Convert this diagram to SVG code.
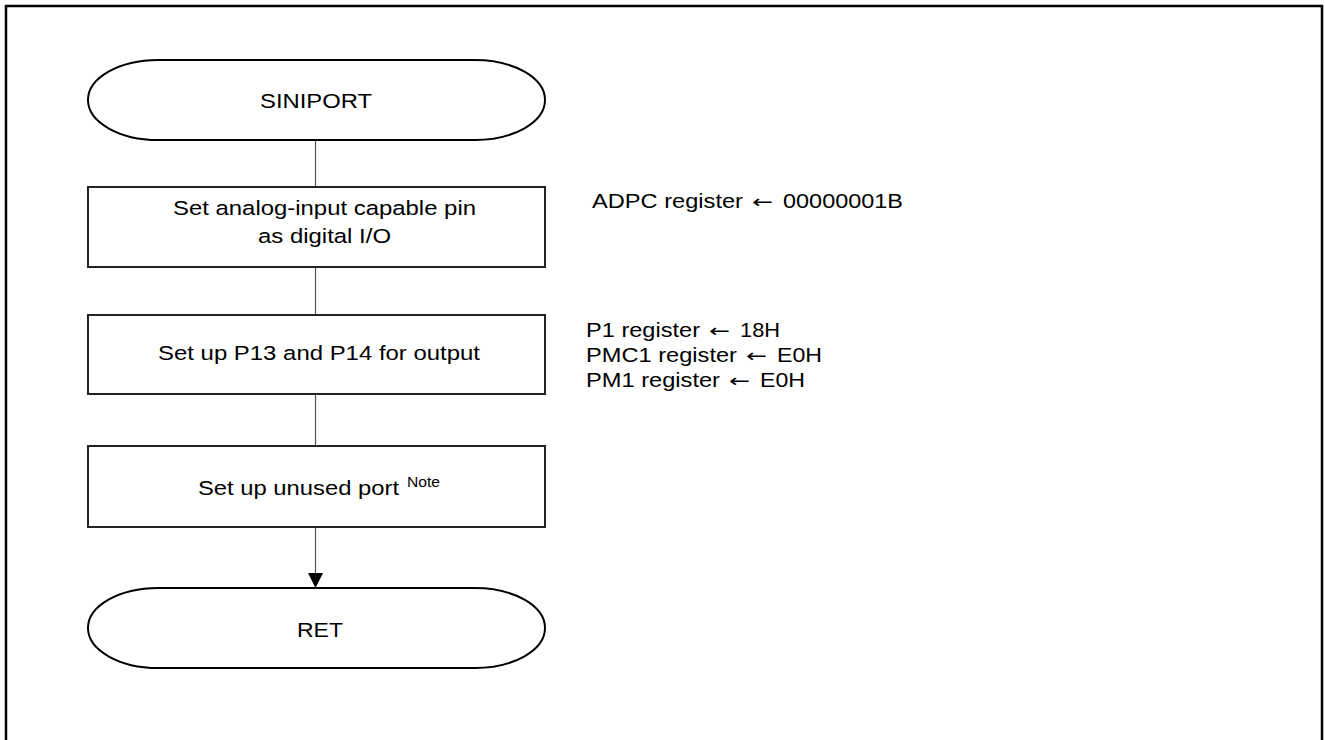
<svg xmlns="http://www.w3.org/2000/svg" width="1325" height="740" viewBox="0 0 1325 740">
<defs>
<style>
.t{font-family:"Liberation Sans",Arial,sans-serif;font-size:20.5px;fill:#000}
.n{font-family:"Liberation Sans",Arial,sans-serif;font-size:14px;fill:#000}
.a{font-family:"DejaVu Sans",sans-serif;font-size:18px}
.shape{fill:#fff;stroke:#000;stroke-width:2}
.box{fill:#fff;stroke:#222;stroke-width:2}
.conn{stroke:#555;stroke-width:1.2;fill:none}
</style>
</defs>
<rect width="1325" height="740" fill="#fff"/>
<rect x="6" y="6" width="1316" height="760" fill="none" stroke="#000" stroke-width="2.5"/>
<g id="connectors">
<line class="conn" x1="315.5" y1="140" x2="315.5" y2="187"/>
<line class="conn" x1="315.5" y1="267" x2="315.5" y2="315"/>
<line class="conn" x1="315.5" y1="394" x2="315.5" y2="446"/>
<line class="conn" x1="315.5" y1="527" x2="315.5" y2="574"/>
<path d="M308,573 L323,573 L315.5,588 Z" fill="#000"/>
</g>
<g id="start">
<path class="shape" d="M158,60 H475 A70,40 0 0 1 475,140 H158 A70,40 0 0 1 158,60 Z"/>
<text class="t" x="260" y="108" textLength="112" lengthAdjust="spacingAndGlyphs">SINIPORT</text>
</g>
<g id="step1">
<rect class="box" x="88" y="187" width="457" height="80"/>
<text class="t" x="173" y="215" textLength="303" lengthAdjust="spacingAndGlyphs">Set analog-input capable pin</text>
<text class="t" x="258" y="243" textLength="133" lengthAdjust="spacingAndGlyphs">as digital I/O</text>
</g>
<g id="note1">
<text class="t" y="208"><tspan x="592" textLength="151" lengthAdjust="spacingAndGlyphs">ADPC register</tspan> <tspan class="a" x="752" textLength="21" lengthAdjust="spacingAndGlyphs">←</tspan> <tspan x="783" textLength="120" lengthAdjust="spacingAndGlyphs">00000001B</tspan></text>
</g>
<g id="step2">
<rect class="box" x="88" y="315" width="457" height="79"/>
<text class="t" x="158" y="360" textLength="322" lengthAdjust="spacingAndGlyphs">Set up P13 and P14 for output</text>
</g>
<g id="note2">
<text class="t" y="337"><tspan x="586" textLength="114" lengthAdjust="spacingAndGlyphs">P1 register</tspan> <tspan class="a" x="709" textLength="21" lengthAdjust="spacingAndGlyphs">←</tspan> <tspan x="740" textLength="40" lengthAdjust="spacingAndGlyphs">18H</tspan></text>
<text class="t" y="362"><tspan x="586" textLength="151" lengthAdjust="spacingAndGlyphs">PMC1 register</tspan> <tspan class="a" x="746" textLength="21" lengthAdjust="spacingAndGlyphs">←</tspan> <tspan x="777" textLength="45" lengthAdjust="spacingAndGlyphs">E0H</tspan></text>
<text class="t" y="387"><tspan x="586" textLength="134" lengthAdjust="spacingAndGlyphs">PM1 register</tspan> <tspan class="a" x="729" textLength="21" lengthAdjust="spacingAndGlyphs">←</tspan> <tspan x="760" textLength="45" lengthAdjust="spacingAndGlyphs">E0H</tspan></text>
</g>
<g id="step3">
<rect class="box" x="88" y="446" width="457" height="81"/>
<text class="t" x="198" y="495" textLength="201" lengthAdjust="spacingAndGlyphs">Set up unused port</text>
<text class="n" x="407" y="487" textLength="33" lengthAdjust="spacingAndGlyphs">Note</text>
</g>
<g id="end">
<path class="shape" d="M158,588 H475 A70,40 0 0 1 475,668 H158 A70,40 0 0 1 158,588 Z"/>
<text class="t" x="297" y="637" textLength="46" lengthAdjust="spacingAndGlyphs">RET</text>
</g>
</svg>
